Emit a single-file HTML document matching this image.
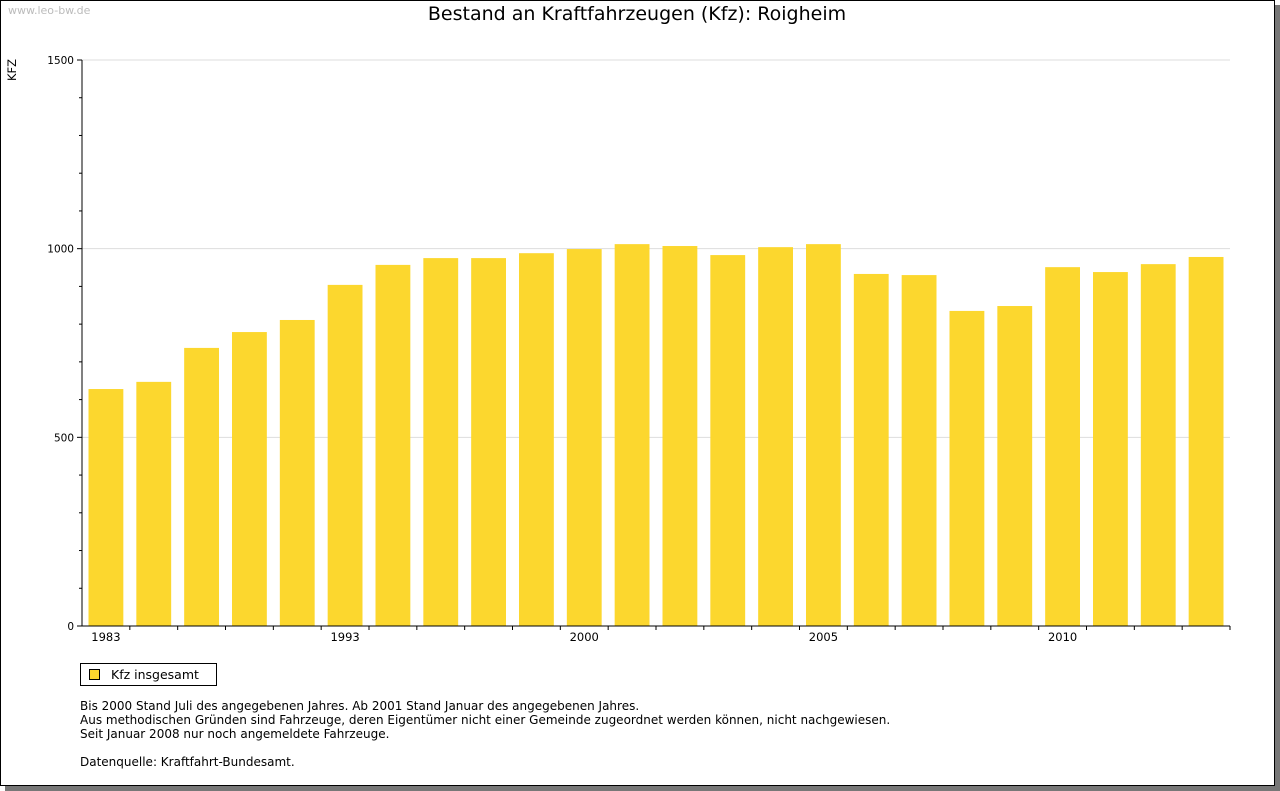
<!DOCTYPE html>
<html><head><meta charset="utf-8"><style>
body{margin:0;background:#fff;font-family:"DejaVu Sans","Liberation Sans",sans-serif;}
#frame{position:absolute;left:0;top:0;width:1273px;height:784px;border:1px solid #000;box-shadow:5px 5px 0 #777;background:#fff;}
.t{position:absolute;white-space:nowrap;}
</style></head><body>
<div id="frame"></div>
<div class="t" style="left:8px;top:4px;font-size:11px;color:#bbb">www.leo-bw.de</div>
<div class="t" style="left:0;width:1274px;top:3px;text-align:center;font-size:19px;color:#000">Bestand an Kraftfahrzeugen (Kfz): Roigheim</div>
<svg id="chart" width="1280" height="791" style="position:absolute;left:0;top:0"></svg>
<div class="t" style="left:80px;top:663px;width:135px;height:21px;border:1px solid #000;font-size:12.5px">
<span style="position:absolute;left:8px;top:5px;width:9px;height:9px;background:#fcd72e;border:1px solid #000"></span>
<span style="position:absolute;left:30px;top:3px">Kfz insgesamt</span></div>
<div class="t" style="left:80px;top:699px;font-size:12px;line-height:14px">Bis 2000 Stand Juli des angegebenen Jahres. Ab 2001 Stand Januar des angegebenen Jahres.<br>Aus methodischen Gründen sind Fahrzeuge, deren Eigentümer nicht einer Gemeinde zugeordnet werden können, nicht nachgewiesen.<br>Seit Januar 2008 nur noch angemeldete Fahrzeuge.<br><br>Datenquelle: Kraftfahrt-Bundesamt.</div>
<script>
const categories=["1983","1985","1987","1988","1990","1993","1994","1995","1997","1999","2000","2001","2002","2003","2004","2005","2006","2007","2008","2009","2010","2011","2012","2013"];
const xLabels=["1983","","","","","1993","","","","","2000","","","","","2005","","","","","2010","","",""];
const values=[628,647,737,779,811,904,957,975,975,988,999,1012,1007,983,1004,1012,933,930,835,848,951,938,959,978];
const yTicks=[0,500,1000,1500];
const NS="http://www.w3.org/2000/svg";
const svg=document.getElementById('chart');
const X0=82,X1=1230,Y0=626,Y1=60,YMAX=1500;
const step=(X1-X0)/categories.length;
const y=v=>Y0-(v/YMAX)*(Y0-Y1);
const x=i=>X0+step*i;
const FF='DejaVu Sans, Liberation Sans, sans-serif';
function mk(t,a){const e=document.createElementNS(NS,t);for(const k in a)e.setAttribute(k,a[k]);svg.appendChild(e);return e;}
yTicks.forEach(v=>{if(v>0){const g=mk('line',{x1:X0,x2:X1,y1:y(v),y2:y(v),stroke:'#ddd'});}
const t=mk('text',{x:X0-8,y:y(v)+4,'text-anchor':'end','font-size':10.5,'font-family':FF});t.textContent=v;
});
for(let v=0;v<=YMAX;v+=100){const l=mk('line',{x1:X0-(v%500?3:5),x2:X0,y1:y(v),y2:y(v),stroke:'#000'});}
values.forEach((v,i)=>{const r=mk('rect',{x:x(i)+6.5,y:y(v),width:step-13,height:Y0-y(v),fill:'#fcd72e'});

const tk=mk('line',{x1:x(i+1),x2:x(i+1),y1:Y0,y2:Y0+4,stroke:'#000'});
if(xLabels[i]){const t=mk('text',{x:x(i)+step/2,y:Y0+15,'text-anchor':'middle','font-size':11.5,'font-family':FF});t.textContent=xLabels[i];
}});
const ax=mk('line',{x1:X0,x2:X0,y1:Y1,y2:Y0,stroke:'#000'});
const bx=mk('line',{x1:X0,x2:X1,y1:Y0,y2:Y0,stroke:'#000'});
const yt=mk('text',{x:16,y:70,'font-size':11.5,'text-anchor':'middle',transform:'rotate(-90 16 70)','font-family':FF});yt.textContent='KFZ';

</script>
</body></html>
